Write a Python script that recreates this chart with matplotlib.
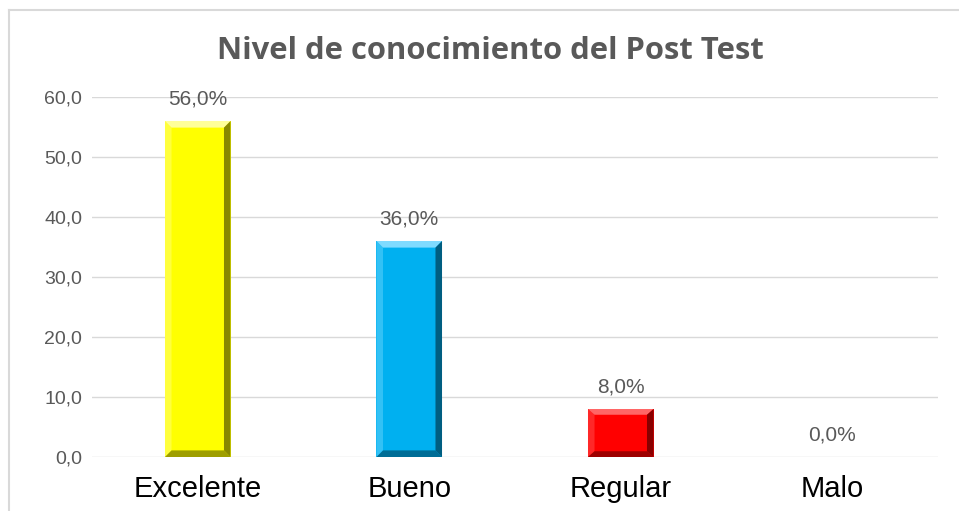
import matplotlib
matplotlib.use("Agg")
import matplotlib.pyplot as plt
from matplotlib.patches import Polygon
from matplotlib.lines import Line2D

categories = ["Excelente", "Bueno", "Regular", "Malo"]
values = [56.0, 36.0, 8.0, 0.0]
colors = ["#FFFF00", "#00B0F0", "#FF0000", "#A5A5A5"]
light = ["#FFFF99", "#7FDBFF", "#FF6666", "#D0D0D0"]
dark = ["#6B6B00", "#004A66", "#6B0000", "#505050"]
yticks = [0, 10, 20, 30, 40, 50, 60]

fig = plt.figure(figsize=(9.59, 5.11), dpi=100)
ax = fig.add_axes([92 / 959, 1 - 457 / 511, 846 / 959, 360 / 511])

x = range(len(categories))
bars = ax.bar(x, values, width=0.31, color=colors, zorder=3)

# bevel effect drawn from each bar's own geometry
for b, lc, dc, v in zip(bars, light, dark, values):
    if v <= 0:
        continue
    x0, w, h = b.get_x(), b.get_width(), b.get_height()
    x1 = x0 + w
    dx = w * 0.1
    dy = min(1.1, h * 0.12)
    ax.add_patch(Polygon([(x0, h), (x1, h), (x1 - dx, h - dy), (x0 + dx, h - dy)],
                         closed=True, color=lc, zorder=4, lw=0))
    ax.add_patch(Polygon([(x0, 0), (x0, h), (x0 + dx, h - dy), (x0 + dx, dy)],
                         closed=True, color=lc, alpha=0.4, zorder=4, lw=0))
    ax.add_patch(Polygon([(x1, 0), (x1, h), (x1 - dx, h - dy), (x1 - dx, dy)],
                         closed=True, color=dc, alpha=0.8, zorder=4, lw=0))
    ax.add_patch(Polygon([(x0, 0), (x1, 0), (x1 - dx, dy), (x0 + dx, dy)],
                         closed=True, color=dc, alpha=0.65, zorder=4, lw=0))

for i, v in enumerate(values):
    ax.annotate(f"{v:.1f}%".replace(".", ","), (i, v), xytext=(0, 9),
                textcoords="offset points", ha="center", va="bottom",
                fontsize=15, color="#595959", family="Liberation Sans")

ax.set_xlim(-0.5, len(categories) - 0.5)
ax.set_ylim(0, 60)
ax.set_yticks(yticks)
ax.set_yticklabels([f"{t:.1f}".replace(".", ",") for t in yticks],
                   fontsize=14, color="#595959", family="Liberation Sans")
ax.set_xticks(list(x))
ax.set_xticklabels(categories, fontsize=21, color="black", family="Liberation Sans")
ax.tick_params(axis="both", length=0)
ax.tick_params(axis="y", pad=7)
ax.tick_params(axis="x", pad=13)
ax.yaxis.grid(True, color="#D9D9D9", lw=1, zorder=0)
for s in ax.spines.values():
    s.set_visible(False)

fig.text(0.511, 1 - 51 / 511, "Nivel de conocimiento del Post Test",
         ha="center", va="center", fontsize=22.3, fontweight="bold",
         color="#595959", family="Open Sans")

# chart area border
fig.add_artist(Line2D([8.5 / 959, 8.5 / 959], [0, 1 - 10 / 511],
                      transform=fig.transFigure, color="#D9D9D9", lw=1.5))
fig.add_artist(Line2D([8.5 / 959, 1], [1 - 10 / 511, 1 - 10 / 511],
                      transform=fig.transFigure, color="#D9D9D9", lw=1.5))

fig.savefig("out.png", dpi=100)
